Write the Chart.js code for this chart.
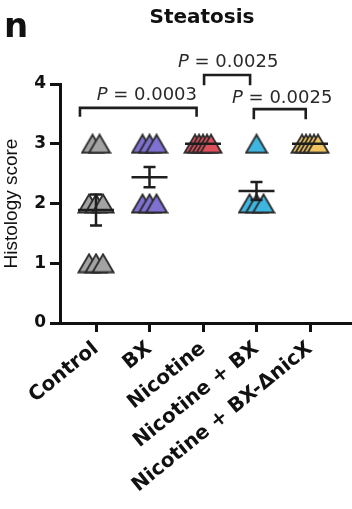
<!DOCTYPE html>
<html>
<head>
<meta charset="utf-8">
<script src="https://cdn.jsdelivr.net/npm/chart.js@4.4.1/dist/chart.umd.min.js"></script>
<style>
  html, body { margin: 0; padding: 0; background: #ffffff; }
  #wrap { position: relative; width: 352px; height: 509px; }
</style>
</head>
<body>
<div id="wrap"><canvas id="c" width="352" height="509"></canvas></div>
<script>
// ---- data ----
const categories = ['Control', 'BX', 'Nicotine', 'Nicotine + BX', 'Nicotine + BX-\u0394nicX'];
const controlScores   = [3, 3, 2, 2, 2, 1, 1, 1];
const bxScores        = [3, 3, 3, 2, 2, 2];
const nicotineScores  = [3, 3, 3, 3, 3];
const nicBxScores     = [3, 2, 2, 2];
const nicBxDeltaScores= [3, 3, 3, 3, 3];
const groupMeans = [1.89, 2.44, 3.0, 2.21, 3.0];
const groupSEM   = [0.26, 0.17, 0.0, 0.15, 0.0];
const yTicks = [0, 1, 2, 3, 4];
const comparisons = [
  { from: 0, to: 2, p: '0.0003' },
  { from: 2, to: 3, p: '0.0025' },
  { from: 3, to: 4, p: '0.0025' }
];

// ---- styling / layout (not data) ----
const fills = ['#a3a3a3', '#7e71d2', '#e0505c', '#3fb6e0', '#f0c45e'];
const outline = '#2b2b2b';
const bracketGeom = [   // x in category units, y in score units
  { x1: -0.30, x2: 1.88, yTop: 3.60, yLeg: 3.45, tx: 0.95, ty: 3.73 },
  { x1: 2.02,  x2: 2.88, yTop: 4.15, yLeg: 3.98, tx: 2.47, ty: 4.28 },
  { x1: 2.95,  x2: 3.92, yTop: 3.58, yLeg: 3.41, tx: 3.48, ty: 3.68 }
];
const PX_PER_CAT = 53.5;

function triangleImage(fill) {
  const cv = document.createElement('canvas');
  cv.width = 24; cv.height = 21;
  const g = cv.getContext('2d');
  g.beginPath();
  g.moveTo(1.5, 19.5);
  g.lineTo(12, 1.5);
  g.lineTo(22.5, 19.5);
  g.closePath();
  g.fillStyle = fill;
  g.fill();
  g.lineWidth = 1.8;
  g.lineJoin = 'miter';
  g.strokeStyle = outline;
  g.stroke();
  return cv;
}

function spreadPoints(scores, groupIndex) {
  const byVal = {};
  scores.forEach(v => { (byVal[v] = byVal[v] || []).push(v); });
  const pts = [];
  Object.keys(byVal).forEach(k => {
    const n = byVal[k].length;
    const step = n > 1 ? Math.min(7, 16 / (n - 1)) : 0;
    byVal[k].forEach((v, i) => {
      const offPx = (i - (n - 1) / 2) * step;
      pts.push({ x: groupIndex + offPx / PX_PER_CAT, y: v });
    });
  });
  return pts;
}

const allScores = [controlScores, bxScores, nicotineScores, nicBxScores, nicBxDeltaScores];
const datasets = allScores.map((s, i) => ({
  label: categories[i],
  data: spreadPoints(s, i),
  pointStyle: triangleImage(fills[i]),
  pointRadius: 11,
  showLine: false
}));

const overlay = {
  id: 'overlay',
  afterDatasetsDraw(chart) {
    const ctx = chart.ctx, xs = chart.scales.x, ys = chart.scales.y;
    ctx.save();
    ctx.strokeStyle = '#1e1e1e';
    ctx.lineWidth = 2.5;
    ctx.lineCap = 'butt';
    groupMeans.forEach((m, i) => {
      const cx = xs.getPixelForValue(i);
      const my = ys.getPixelForValue(m);
      ctx.beginPath();
      ctx.moveTo(cx - 18, my); ctx.lineTo(cx + 18, my);
      ctx.stroke();
      if (groupSEM[i] > 0) {
        const hi = ys.getPixelForValue(m + groupSEM[i]);
        const lo = ys.getPixelForValue(m - groupSEM[i]);
        ctx.beginPath();
        ctx.moveTo(cx, hi); ctx.lineTo(cx, lo);
        ctx.moveTo(cx - 6, hi); ctx.lineTo(cx + 6, hi);
        ctx.moveTo(cx - 6, lo); ctx.lineTo(cx + 6, lo);
        ctx.stroke();
      }
    });
    ctx.restore();
  },
  afterDraw(chart) {
    const ctx = chart.ctx, xs = chart.scales.x, ys = chart.scales.y;
    ctx.save();
    ctx.strokeStyle = '#1e1e1e';
    ctx.lineWidth = 2.6;
    ctx.lineJoin = 'miter';
    comparisons.forEach((c, i) => {
      const g = bracketGeom[i];
      const x1 = xs.getPixelForValue(g.x1), x2 = xs.getPixelForValue(g.x2);
      const yt = ys.getPixelForValue(g.yTop), yl = ys.getPixelForValue(g.yLeg);
      ctx.beginPath();
      ctx.moveTo(x1, yl); ctx.lineTo(x1, yt); ctx.lineTo(x2, yt); ctx.lineTo(x2, yl);
      ctx.stroke();
      const italic = 'italic 18px "DejaVu Sans"';
      const normal = '18px "DejaVu Sans"';
      ctx.font = italic;
      const wP = ctx.measureText('P').width;
      ctx.font = normal;
      const rest = ' = ' + c.p;
      const wR = ctx.measureText(rest).width;
      const tx = xs.getPixelForValue(g.tx) - (wP + wR) / 2;
      const ty = ys.getPixelForValue(g.ty);
      ctx.fillStyle = '#2a2a2a';
      ctx.textBaseline = 'alphabetic';
      ctx.textAlign = 'left';
      ctx.font = italic;
      ctx.fillText('P', tx, ty);
      ctx.font = normal;
      ctx.fillText(rest, tx + wP, ty);
    });
    ctx.fillStyle = '#111';
    ctx.textAlign = 'left';
    ctx.font = 'bold 34px "DejaVu Sans"';
    ctx.fillText('n', 4, 37);
    ctx.textAlign = 'center';
    ctx.font = 'bold 20px "DejaVu Sans"';
    ctx.fillText('Steatosis', 202, 23);
    ctx.restore();
  }
};

new Chart(document.getElementById('c'), {
  type: 'scatter',
  data: { datasets },
  options: {
    responsive: false,
    animation: false,
    events: [],
    layout: { autoPadding: false, padding: { top: 84, right: 0, left: 0, bottom: 0 } },
    plugins: { legend: { display: false }, tooltip: { enabled: false } },
    scales: {
      x: {
        type: 'linear',
        min: -0.673,
        max: 4.785,
        afterBuildTicks: s => { s.ticks = categories.map((c, i) => ({ value: i })); },
        afterFit: s => { s.height = 186; s.paddingLeft = 0; s.paddingRight = 0; },
        ticks: {
          autoSkip: false,
          minRotation: 39,
          maxRotation: 39,
          padding: 5,
          color: '#111',
          font: { family: 'DejaVu Sans', weight: 'bold', size: 20 },
          callback: v => categories[v]
        },
        grid: { drawOnChartArea: false, drawTicks: true, tickLength: 9, lineWidth: 3, color: '#111' },
        border: { display: true, width: 3, color: '#111' }
      },
      y: {
        min: 0,
        max: 4,
        afterBuildTicks: s => { s.ticks = yTicks.map(v => ({ value: v })); },
        afterFit: s => { s.width = 60; },
        ticks: {
          padding: 4,
          color: '#111',
          font: { family: 'DejaVu Sans', weight: 'bold', size: 17 },
          callback: v => String(v)
        },
        grid: { drawOnChartArea: false, drawTicks: true, tickLength: 10, lineWidth: 3, color: '#111' },
        border: { display: true, width: 3, color: '#111' },
        title: {
          display: true,
          text: 'Histology score',
          color: '#111',
          padding: { top: 0, bottom: 0 },
          font: { family: 'Liberation Sans', size: 19 }
        }
      }
    }
  },
  plugins: [overlay]
});
</script>
</body>
</html>
